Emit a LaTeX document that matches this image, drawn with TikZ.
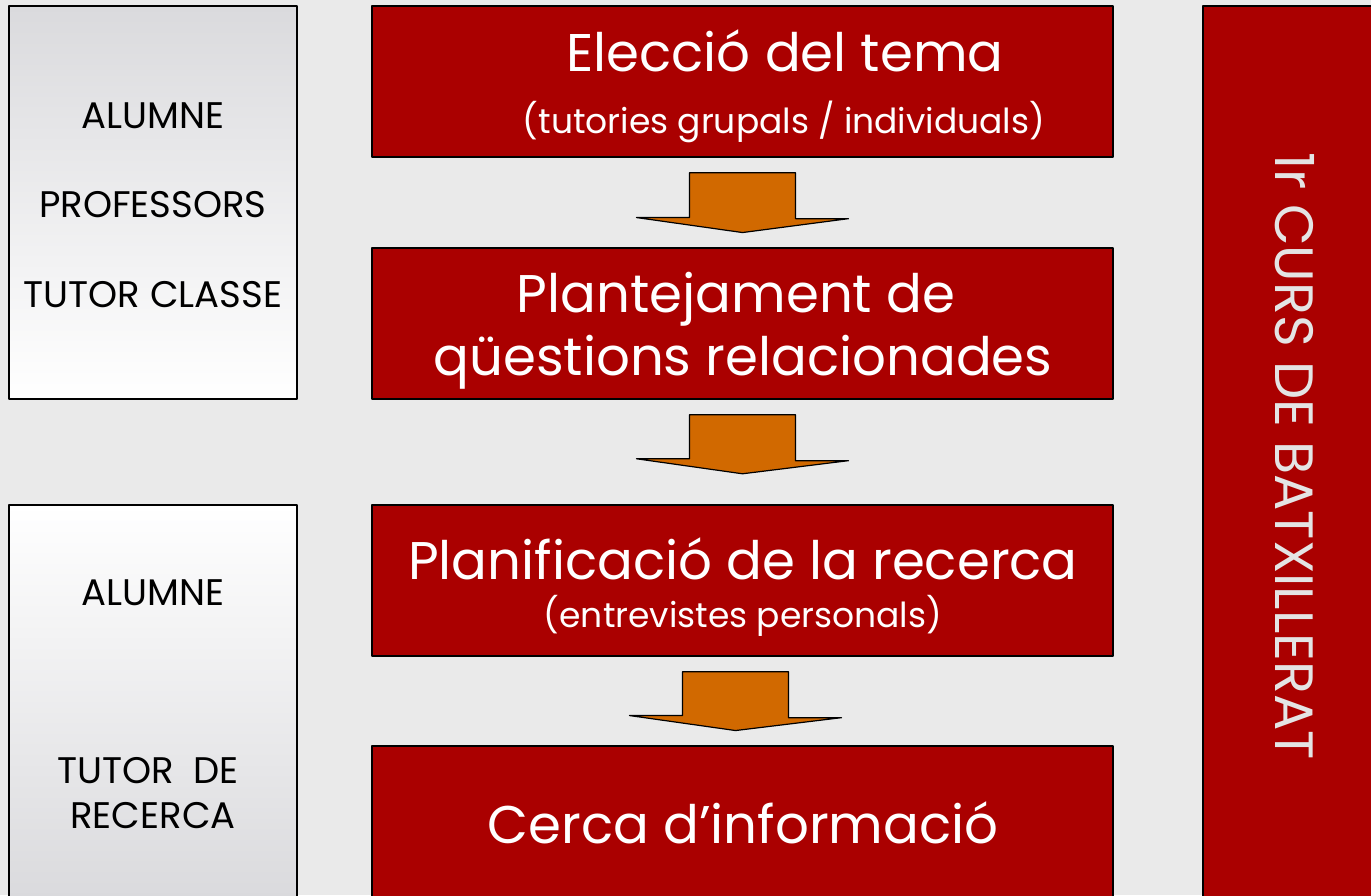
\documentclass[tikz,border=0pt]{standalone}
\usepackage{fontspec}
\setmainfont{Poppins}
\usetikzlibrary{calc}

\definecolor{fons}{RGB}{234,234,234}
\definecolor{granat}{RGB}{170,0,0}
\definecolor{taronja}{RGB}{209,105,0}
\definecolor{grisclar}{RGB}{218,218,221}
\definecolor{lletra}{RGB}{228,228,228}

\begin{document}
\begin{tikzpicture}[line cap=round,line join=round,x=1pt,y=-1pt,
    etapa/.style={draw=black,line width=1.3pt,fill=granat,minimum width=741pt,minimum height=151pt,inner sep=0pt},
    agent/.style={draw=black,line width=1.3pt,minimum width=288pt,minimum height=393pt,inner sep=0pt},
    titol/.style={anchor=base,text=white,inner sep=0pt,font=\fontsize{53}{60}\selectfont},
    subtitol/.style={anchor=base,text=white,inner sep=0pt,font=\fontsize{34.5}{40}\selectfont},
    rol/.style={anchor=base,text=black,inner sep=0pt,font=\fontsize{37}{40}\selectfont},
    fletxa/.style={draw=black,line width=1.2pt,fill=taronja}]
      \useasboundingbox (0,0) rectangle (1371,895);
      \clip (0,0) rectangle (1371,895);
      \fill[fons] (0,0) rectangle (1371,895);

      % qui hi participa
      \node[agent,top color=grisclar,bottom color=white] (agents1) at (153,202.5) {};
      \node[agent,top color=white,bottom color=grisclar] (agents2) at (153,701.5) {};
      \node[rol] (alumne1) at (153,128) {ALUMNE};
      \node[rol] (professors) at (153,217) {PROFESSORS};
      \node[rol] (tutorclasse) at (153,307) {TUTOR CLASSE};
      \node[rol] (alumne2) at (153,605) {ALUMNE};
      \node[rol] (tutorde) at (148,783) {TUTOR\ \ DE};
      \node[rol] (recerca) at (153,828) {RECERCA};

      % etapes
      \node[etapa] (eleccio) at (742.5,81.5) {};
      \node[etapa] (plantejament) at (742.5,323.5) {};
      \node[etapa] (planificacio) at (742.5,580.5) {};
      \node[etapa] (cerca) at (742.5,821.5) {};

      \node[titol] (eleccio-t) at (785,71) {Elecció del tema};
      \node[subtitol] (eleccio-s) at (784,133) {(tutories grupals / individuals)};
      \node[titol] (plantejament-t) at (736,312) {Plantejament de};
      \node[titol] (plantejament-s) at (743,375) {qüestions relacionades};
      \node[titol] (planificacio-t) at (743,579) {Planificació de la recerca};
      \node[subtitol] (planificacio-s) at (743,627) {(entrevistes personals)};
      \node[titol] (cerca-t) at (743,843) {Cerca d’informació};

      \foreach \a/\b/\d/\t in {eleccio/plantejament/0/0.835,plantejament/planificacio/0/0.708,planificacio/cerca/-7/0.833}{
        \draw[fletxa] ($(\a.south)+(\d-53,15)$) -- ++(106,0) -- ++(0,46) -- ++(53,0) --
                      ($(\a.south)!\t!(\b.north)+(\d,0)$) -- ++(-106,-15) -- ++(53,0) -- cycle;
      }

      % curs
      \fill[granat,draw=black,line width=1.3pt] (1203,6) rectangle (1390,910);
      \node[rotate=-90,anchor=base,text=lletra,inner sep=0pt,font=\fontsize{54}{56}\selectfont] (curs) at (1275,456) {1r CURS DE BATXILLERAT};
    \end{tikzpicture}
\end{document}
